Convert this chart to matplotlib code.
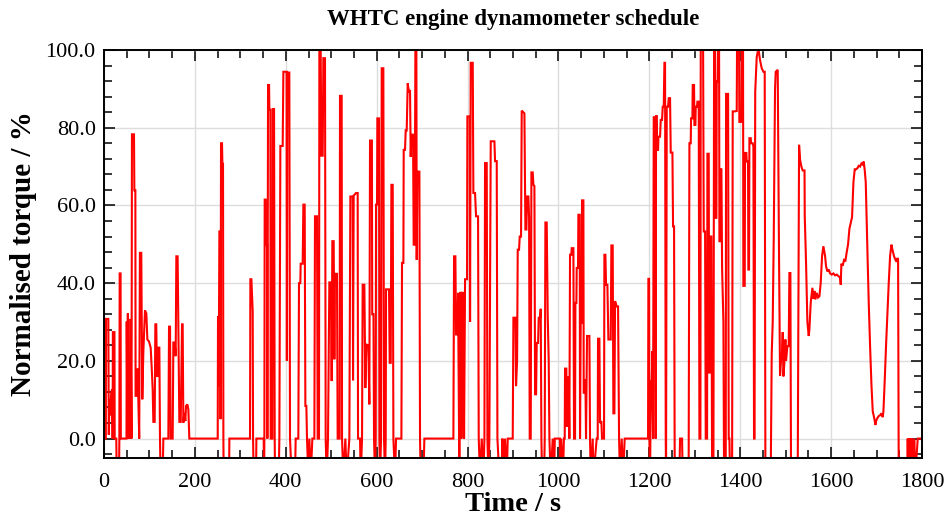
import matplotlib
matplotlib.use("Agg")
import matplotlib.pyplot as plt
from matplotlib.ticker import MultipleLocator, FormatStrFormatter
import numpy as np

plt.rcParams['font.family'] = ['Liberation Serif', 'DejaVu Serif']

# ---- data (time in s, normalised torque in %) ----
time_urban_a = [0, 4, 4.4, 9.5, 10.5, 12, 13.2, 16, 18, 19,
    19.5, 23, 23.5, 27, 28, 33, 33.8, 34.5, 36.5, 37,
    49.5, 50, 51.5, 52.5, 54, 55.5, 57, 58.5, 60.5, 61.5,
    66, 66.8, 69, 69.5, 71.9, 74, 77.5, 79, 82, 84.3,
    86.6, 90.2, 93.2, 95.4, 99, 102.7, 104.9, 107.1, 108.6, 111.5,
    113, 115, 116.6, 118.8, 120.3, 121.8, 123.2, 124.5, 129, 130.6,
    141.6, 143.1, 145.3, 146.7, 151.1, 152.6, 155.5, 157.7, 159.2, 162,
    164.3, 165.8, 168.8, 171.7, 173.1, 174.6, 176.8, 179, 180.5, 183.4,
    185.6, 187.8]
torque_urban_a = [0, 0, 30.8, 30.8, 1, 10, 6, 12, 12.7, 0,
    27.4, 27.4, 0, 0, -10, -10, 0, 42.5, 42.5, 0,
    0, 30.1, 0, 32.2, 0, 20.8, 0, 30.8, 0, 78.3,
    78.3, 63.9, 63.9, 11, 11, 18, 0, 47.8, 47.8, 10.1,
    22.5, 33, 32.2, 25.5, 25, 23.4, 18.4, 12.7, 4.3, 4.3,
    29.4, 29.4, 16.1, 16.1, 23.4, 23.4, 0, -10, -10, 0,
    0, 28.8, 28.8, 0, 0, 24.7, 24.7, 21.2, 46.9, 46.9,
    21.2, 4.3, 4.3, 29.4, 29.4, 4.1, 6.6, 4.5, 8.4, 8.8,
    7.5, 0]

time_urban_b = [250.2, 250.9, 252.4, 253.9, 256.1, 256.5, 257.5, 259.7, 260.5, 261.9,
    262.7, 263.4, 275.1, 275.9, 321.3, 322.1, 324.3, 327.2, 328, 329.4,
    334.6, 335.3, 351.4, 352.2, 352.9, 353.6, 355.8, 356.6, 358.8, 359.5,
    361, 363.2, 363.9, 366.1, 366.8, 370.5, 371.2, 374.2, 375.6, 376.4,
    384.4, 385.9, 388.1, 393.2, 394.7, 401.7, 402.4, 403.4, 407.8, 409.3,
    413, 420.3, 421.8, 427.6, 429.1, 432, 432.8, 437.2, 438.7, 441.6,
    443.1, 445.3, 446.7, 449.7, 451.9, 454.8, 458.5, 462.9, 464.3, 468.7,
    470.2, 473.1, 473.9, 476.8, 478.3, 481.2, 482.7, 486.3, 487.8, 490,
    492.9, 495.9, 499.5, 501, 502.5, 505.4, 506.9, 508.3, 512.7, 514.2,
    518.6, 519.3, 523, 523.8, 526.7, 531.1, 534, 539.9, 542.1, 547.2,
    548, 549.4, 554.6, 558.2, 559, 563.4, 564.8, 567.8, 569.2, 572.9,
    575.1, 577.3, 581.7, 583.9, 585.4, 589.5, 590.2, 593, 594.2, 596.4,
    597.9, 598.6, 600.8, 601.5, 605.2, 606, 607.4, 609.6, 611.1, 614.7,
    616.2, 618.4, 619.9, 620.6, 627.2, 628.7, 630.9, 632.4, 635.3, 636.8,
    640.4, 642.6, 654.4, 655.8, 658.8, 659.5, 662.4, 663.9, 666.1, 668.3,
    671.2, 673.4, 674.9, 676.4, 680, 681.5, 683.7, 685.2, 687.4, 688.1,
    689.6, 694, 695.4, 696.9, 702.8, 705, 768.8, 770.3, 773.2, 774.7,
    777.6, 779.1, 781.3, 782, 783.5, 786, 786.5, 787.5, 790.8, 792.3,
    794.5, 798.9, 799.6, 804.8, 805.5, 807, 811.4, 812.8, 816.5, 818.7,
    823.1, 824.6, 827.5, 831.2, 834.9, 837.1, 838.5, 842.2, 843.7, 845.9,
    848, 851, 859.1, 860.5, 864.2, 865.7, 870.1, 875.2, 876.7, 878.9,
    882.5, 886.2, 888.4, 899.4]
torque_urban_b = [0, 31.5, 13.5, 53.3, 53.3, 5, 76, 76, 70.7, 70.7,
    0, -10, -10, 0, 0, 41, 41, 32.8, 0, -10,
    -10, 0, 0, -10, 0, 61.5, 61.5, 50, 50, 0,
    91, 91, 84.6, 84.6, 0, 0, 84.8, 84.8, 0, -10,
    -10, 0, 75.3, 75.3, 94.4, 94.4, 20, 94.2, 94.2, 0,
    -10, -10, 0, 0, 40, 40, 45, 45, 60.2, 60.2,
    8.4, 8.4, 0, -10, 0, -10, 0, 0, 57.2, 57.2,
    0, 0, 100, 100, 72.8, 72.8, 97.9, 97.9, 0, -10,
    0, 40.2, 40.2, 14.8, 50.8, 50.8, 20.4, 42.4, 42.4, 0,
    0, 88.2, 88.2, 0, -10, 0, -10, 0, 62.3, 62.3,
    15, 62.5, 63.2, 63.2, 0, 0, -10, 0, 39.6, 39.6,
    13, 24.2, 24, 8.8, 76.7, 76.7, 32, 32, 0, -10,
    0, 60.2, 60.2, 82.4, 82.4, 0, -10, 0, 95.3, 95.3,
    0, -10, 0, 38.4, 38.4, 19.5, 19.5, 65.3, 65.3, 0,
    -10, 0, 0, 45.2, 45.2, 74.3, 74.3, 79.3, 79.3, 91.4,
    89, 89.7, 72.5, 78.2, 78.2, 49.9, 49.9, 100, 100, 46,
    68.7, 68.7, 0, -10, -10, 0, 0, 46.9, 46.9, 26.8,
    26.8, 37.5, 0, -10, 37.5, 37.5, 0, 37.5, 37.5, 0,
    41, 41, 82.9, 82.9, 30, 96.7, 96.7, 63.2, 63.2, 57.2,
    57.2, 0, -10, 0, -10, 0, 70.9, 70.9, 0, -10,
    0, 76.5, 76.5, 71.4, 71.4, 0, -10, -10, 0, -10,
    0, -10, 0, 0]

time_rural = [900.9, 905.3, 906.7, 909, 910.4, 913.3, 914.8, 917.7, 919.2, 925.1,
    927.3, 929.5, 931, 933.9, 935.4, 936.8, 939, 940.5, 943.4, 944.9,
    947.1, 948.6, 950.8, 952.2, 955.2, 956.6, 959.6, 961, 962.5, 964,
    968.4, 969.8, 971.3, 974.2, 976.4, 978.6, 980.1, 983, 987.4, 990.4,
    992, 1003, 1004, 1006, 1010, 1012, 1013.8, 1014.5, 1017.4, 1018.2,
    1019.6, 1022.6, 1024, 1025.5, 1028.4, 1029.2, 1032.9, 1034.3, 1036.5, 1037.3,
    1039.5, 1040.2, 1043.1, 1043.9, 1046.8, 1047.5, 1049, 1051.2, 1051.9, 1054.9,
    1055.6, 1057.8, 1059.3, 1060.7, 1062.9, 1068.1, 1069.5, 1071, 1075.4, 1076.9,
    1084.2, 1086.4, 1087.1, 1090.1, 1091.5, 1094.5, 1095.9, 1100.3, 1101.1, 1103.3,
    1104.7, 1107.7, 1109.9, 1115, 1116.5, 1119.4, 1120.9, 1123.1, 1124.6, 1128.2,
    1131.2, 1133.4, 1135.6, 1139.2, 1142.2, 1145.8, 1197.2, 1197.9, 1199.4, 1200.1,
    1201.6, 1202.3, 1203.8, 1205.3, 1206.7, 1208.2, 1209.7, 1213.3, 1214, 1214.8,
    1216.3, 1217, 1219.2, 1220, 1223.6, 1225.1, 1228, 1229.5, 1231.7, 1233.2,
    1234.6, 1236.1, 1236.8, 1238.3, 1241.2, 1242.7, 1245.6, 1247.1, 1250.8, 1252.2,
    1254.4, 1255.9, 1266, 1267.6, 1272, 1273.5, 1286.5, 1288.2, 1291.1, 1291.8,
    1294.8, 1295.5, 1298.4, 1299.2, 1301.4, 1302.1, 1305, 1305.8, 1308.7, 1310.2,
    1312.4, 1313.1, 1318.3, 1319.7, 1322.7, 1324.1, 1327.1, 1327.8, 1330.7, 1331.5,
    1332.9, 1333.7, 1336.6, 1338.1, 1341, 1342.5, 1344.7, 1345.4, 1347.6, 1348.3,
    1350.5, 1351.3, 1353.5, 1354.2, 1355.7, 1356.4, 1358.6, 1360.1, 1363, 1364.5,
    1368.1, 1368.9, 1373.3, 1374.7, 1376.2]
torque_rural = [31.1, 31.1, 13.5, 20, 48.6, 48.6, 52, 52, 84.4, 83.7,
    53.8, 53.8, 62.3, 62.3, 56.8, 0, 0, 68.5, 68.5, 65.3,
    65, 11.4, 11.4, 24.6, 24.6, 31.1, 31.1, 33.4, 0, -10,
    -10, 0, 55.6, 55.6, 31.5, 20, 0, -10, 0, -10,
    0, 0, -10, 0, -10, 0, 0, 18, 18, 3,
    15.7, 15.7, 0, 47.3, 47.3, 49, 49, 0, 0, 34.9,
    34.9, 43.9, 43.9, 57.6, 57.6, 0, 29.8, 29.8, 61.3, 61.3,
    11.8, 11.8, 15.2, 0, 26.4, 26.4, 0, -10, 0, -10,
    0, 0, 25.7, 25.7, 4, 4.5, 0, 0, 47.3, 47.3,
    39.6, 39.6, 25.5, 25.5, 49.7, 49.7, 6.5, 6.5, 35.4, 34,
    34, 0, -10, 0, -10, 0, 0, 41.1, 41.1, 0,
    -10, 0, 14.8, 14.8, 22.5, 0, 82.7, 82.7, 0, 83,
    83, 74.3, 74.3, 77.7, 77.7, 82, 82, 85.4, 85.4, 96.7,
    96.7, 0, -10, 85.4, 85.4, 87.6, 87.6, 73.6, 73.6, 54.6,
    54.6, -10, -10, 0, 0, -10, -10, 76, 76, 82.4,
    82.4, 91, 91, 80.7, 80.7, 85.4, 85.4, 86.7, 86.7, 0,
    0, 101, 101, 53.3, 53.3, 0, 0, 73.3, 73.3, 17,
    17, 52, 52, -10, -10, 101, 101, 56.8, 56.8, 91.9,
    91.9, 101, 101, 50.8, 50.8, 69.3, 69.3, 43.9, 30, -10,
    -10, 88.7, 88.7, 0, 0]

time_motorway = [1377.7, 1382.1, 1383.5, 1388, 1392.3, 1393, 1397.4, 1398.1, 1402.5, 1403.3,
    1406.2, 1406.9, 1409.9, 1410.6, 1413.5, 1414.3, 1417.2, 1417.9, 1419.4, 1420.2,
    1423.1, 1423.8, 1427.5, 1429, 1430.4, 1431.5, 1433, 1436.3, 1440, 1443.6,
    1447.3, 1451, 1453.9, 1455.4, 1467.1, 1469.3, 1471.5, 1473.7, 1476.6, 1478.1,
    1482.5, 1484, 1485.4, 1487.6, 1489.8, 1492, 1493.5, 1495, 1497.2, 1499.4,
    1500.8, 1503.8, 1506.7, 1508.2, 1510.4, 1511.8, 1526.5, 1529.5, 1531.7, 1534.6,
    1537.5, 1541.5, 1542, 1544.9, 1547.8, 1550.7, 1552.2, 1555.1, 1558.8, 1561,
    1563.2, 1565.4, 1568.3, 1571.3, 1574.2, 1577.1, 1580.1, 1583, 1586.7, 1588.9,
    1591.8, 1594.8, 1597.7, 1601.4, 1605, 1608.7, 1612.4, 1616, 1619.7, 1621.2,
    1622.6, 1625.6, 1628.5, 1631.5, 1634.4, 1637.3, 1640.3, 1643.2, 1646.1, 1649.1,
    1652, 1654.9, 1657.9, 1660.8, 1663.7, 1666.7, 1669.6, 1671.8, 1674, 1676.2,
    1678.4, 1680.6, 1682.8, 1685.7, 1688.7, 1691.6, 1694.5, 1697.5, 1698.9, 1701.9,
    1704.8, 1707.7, 1710.7, 1713.6, 1715.1, 1718, 1720.9, 1723.9, 1726.8, 1729.8,
    1732.7, 1735.6, 1738.5, 1741.5, 1744.4, 1745.9, 1747.4, 1748.8, 1767.9, 1768.6,
    1769.4, 1772.3, 1773, 1775.2, 1776, 1778.2, 1779.6, 1783.3, 1784.8, 1790.6,
    1799]
torque_motorway = [-10, -10, 84.2, 84.2, 84.3, 101, 101, 81.5, 81.5, 101,
    101, 39.3, 39.3, 73.5, 73.5, 71.3, 71.3, 43.5, 43.5, 77.3,
    77.3, 76, 76, 75.2, 0, 0, 89.3, 98.2, 100.4, 97.4,
    95.3, 94.4, 94.4, -10, -10, 21.7, 30, 51.2, 90, 94.4,
    94.9, 70, 46.9, 16.1, 20, 22.2, 27.4, 16, 19.5, 25.5,
    20, 23.8, 23.8, 42.6, 42.6, -10, -10, 75.6, 71.8, 70,
    69, 69, 57.2, 45, 30, 26.4, 28, 34.9, 38.8, 36,
    38, 35.8, 37.5, 36.3, 36.6, 40, 47, 49.5, 47, 44.3,
    43, 43.5, 42.5, 42.2, 42.5, 42, 42.2, 41.8, 41.5, 39.6,
    45, 44.5, 46, 45.8, 48, 50, 54, 55.5, 57, 66,
    69.3, 69.3, 69.6, 70.2, 70, 70.8, 70.5, 71.3, 69, 66,
    55, 45, 35, 24, 14, 7, 5.5, 3.5, 4.5, 5.3,
    5.8, 6, 6.5, 5.5, 7, 15, 24, 32, 40, 47,
    49.9, 48.3, 46.9, 46, 45.5, 46.5, 46, -10, -10, 0,
    -10, 0, -10, 0, -10, 0, -10, 0, -10, 0,
    0]

x_ticks = [0, 200, 400, 600, 800, 1000, 1200, 1400, 1600, 1800]
y_ticks = [0.0, 20.0, 40.0, 60.0, 80.0, 100.0]

time_s = np.array(time_urban_a + time_urban_b + time_rural + time_motorway)
torque = np.array(torque_urban_a + torque_urban_b + torque_rural + torque_motorway)
assert len(time_s) == len(torque)

W, H = 951, 518
fig = plt.figure(figsize=(W / 100, H / 100), dpi=100)
ax = fig.add_axes([104 / W, 1 - 458 / H, 818 / W, 408 / H])

ax.plot(time_s, torque, color='#ff0000', lw=1.5, solid_joinstyle='miter')

ax.set_xlim(0, 1800)
ax.set_ylim(-5, 100)
ax.set_xticks(x_ticks)
ax.set_yticks(y_ticks)
ax.xaxis.set_minor_locator(MultipleLocator(50))
ax.yaxis.set_minor_locator(MultipleLocator(4))
ax.yaxis.set_major_formatter(FormatStrFormatter('%.1f'))
ax.tick_params(which='both', direction='in', top=True, right=True, width=1.1, colors='black')
ax.tick_params(which='major', length=8, labelsize=16)
ax.tick_params(axis='x', which='major', pad=11)
ax.tick_params(axis='y', which='major', pad=6)
ax.tick_params(which='minor', length=6)
ax.grid(True, which='major', color='#dddddd', lw=1.0)
ax.set_axisbelow(True)
for s in ax.spines.values():
    s.set_linewidth(1.4)

ax.set_xlabel('Time / s', fontsize=20.5, fontweight='bold', labelpad=0)
ax.set_ylabel('Normalised torque / %', fontsize=21, fontweight='bold', labelpad=6)
fig.text(513 / W, 1 - 19 / H, 'WHTC engine dynamometer schedule', ha='center', va='center',
         fontsize=16.5, fontweight='bold')

fig.savefig('out.png', dpi=100)
